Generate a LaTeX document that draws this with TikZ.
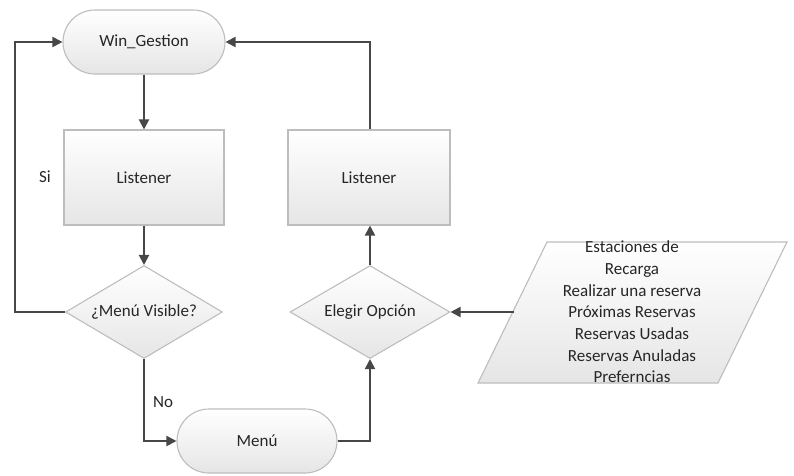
\documentclass[tikz,border=0pt]{standalone}
\usepackage{fontspec}
\setmainfont{Carlito}
\usetikzlibrary{arrows.meta,shapes.geometric}
\definecolor{linkc}{HTML}{474747}
\definecolor{edgec}{HTML}{BDBDBD}
\definecolor{txtc}{HTML}{262626}
\tikzset{
  base/.style={draw=edgec, line width=1.1pt, top color=white, bottom color=black!10,
    text=txtc, font=\fontsize{17}{21}\selectfont, inner sep=0pt},
  terminal/.style={base, rectangle, minimum width=162pt, minimum height=64pt, rounded corners=31.9pt},
  process/.style={base, rectangle, minimum width=160pt, minimum height=95pt},
  decision/.style={base, diamond, aspect=1.69, minimum width=157pt, minimum height=93pt},
  arr/.style={draw=linkc, line width=2pt, -{Triangle[length=10pt,width=10pt]}},
  lbl/.style={text=txtc, font=\fontsize{17}{21}\selectfont, inner sep=0pt}
}
\begin{document}
\begin{tikzpicture}[x=1pt,y=-1pt]
\useasboundingbox (0,0) rectangle (794,475);
% main flow
\node[terminal] (win) at (144,42) {Win\_Gestion};
\node[process] (lis1) at (144,177.5) {Listener};
\node[process, minimum width=162pt] (lis2) at (369,177.5) {Listener};
\node[decision] (vis) at (144,312) {¿Menú Visible?};
\node[decision, minimum width=160pt] (opc) at (370,312) {Elegir Opción};
\node[terminal, minimum width=160pt] (menu) at (257,441) {Menú};
% options input (parallelogram)
\coordinate (pbl) at (478,383);
\coordinate (ptl) at (547,242);
\coordinate (ptr) at (787,242);
\coordinate (pbr) at (718,383);
\draw[draw=edgec, line width=1.1pt, top color=white, bottom color=black!10]
  (pbl) -- (ptl) -- (ptr) -- (pbr) -- cycle;
\coordinate (pin) at (514,312);
\node[lbl, align=center, font=\fontsize{17}{21.7}\selectfont] (opts) at (632,312)
  {Estaciones de\\Recarga\\Realizar una reserva\\Próximas Reservas\\Reservas Usadas\\Reservas Anuladas\\Preferncias};
% connectors
\draw[arr] (win.south) -- (lis1.north);
\draw[arr] (lis1.south) -- (vis.north);
\draw[arr] (vis.west) -- (15,312) -- (15,42) -- (win.west);
\draw[arr] (vis.south) -- (144,441) -- (menu.west);
\draw[arr] (menu.east) -- (370,441) -- (opc.south);
\draw[arr] (opc.north) -- (lis2.south -| opc.north);
\draw[arr] (lis2.north -| opc.north) -- (370,42) -- (win.east);
\draw[arr] (pin) -- (opc.east);
% branch labels
\node[lbl] (si) at (45,177) {Si};
\node[lbl] (no) at (163,402) {No};
\end{tikzpicture}
\end{document}
